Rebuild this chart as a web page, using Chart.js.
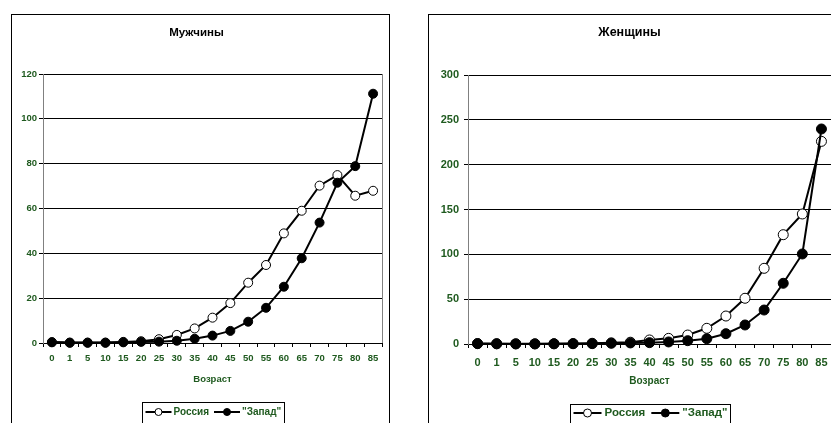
<!DOCTYPE html>
<html><head><meta charset="utf-8">
<script src="https://cdn.jsdelivr.net/npm/chart.js@4.4.1/dist/chart.umd.min.js"></script>
<style>
html,body{margin:0;padding:0;background:#fff;overflow:hidden;width:831px;height:423px;position:relative;}
.box{position:absolute;border:1px solid #000;box-sizing:border-box;}
canvas{position:absolute;}
</style></head><body>
<div class="box" style="left:11px;top:14px;width:379px;height:440px;"></div>
<div class="box" style="left:428px;top:14px;width:440px;height:440px;"></div>
<canvas id="c1" width="378" height="420" style="left:11px;top:14px;"></canvas>
<canvas id="c2" width="410" height="420" style="left:428px;top:14px;"></canvas>
<script>
const ageGroups = ['0','1','5','10','15','20','25','30','35','40','45','50','55','60','65','70','75','80','85'];
const seriesNames = ['Россия', '"Запад"'];
const maleRussia = [0.4,0.2,0.2,0.2,0.5,0.8,1.7,3.6,6.5,11.3,17.8,26.9,34.8,48.9,59.0,70.2,74.9,65.7,67.9];
const maleWest   = [0.3,0.1,0.1,0.1,0.3,0.5,0.6,1.0,1.9,3.3,5.4,9.5,15.7,25.1,37.8,53.7,71.5,78.9,111.2];
const femaleRussia = [0.5,0.3,0.2,0.2,0.3,0.5,0.8,1.3,2.0,4.5,6.3,10.0,17.5,31.2,51.0,84.4,121.9,145.0,226.0];
const femaleWest   = [0.4,0.2,0.1,0.1,0.2,0.3,0.4,0.8,1.2,1.5,2.3,3.7,5.9,11.5,21.2,37.9,67.7,100.4,239.8];
const maleTitle = 'Мужчины';
const femaleTitle = 'Женщины';
const xAxisTitle = 'Возраст';

const GREEN = '#1f5a1f';
const FONT = '"Liberation Sans", Arial, Helvetica, sans-serif';

function plotBorder(){
  return {id:'plotBorder', beforeDraw(chart){
    const {ctx, chartArea:a} = chart;
    ctx.save(); ctx.strokeStyle='#808080'; ctx.lineWidth=1;
    ctx.strokeRect(Math.round(a.left)+0.5, Math.round(a.top)+0.5, Math.round(a.right-a.left), Math.round(a.bottom-a.top));
    ctx.restore();
  }};
}
function legendPlugin(cfg){
  return {id:'boxLegend', afterDraw(chart){
    const ctx = chart.ctx, ca = chart.chartArea;
    ctx.save();
    ctx.font = 'bold ' + cfg.size + 'px ' + FONT;
    const items = chart.data.datasets.map(ds => ({label: ds.label, fill: ds.pointBackgroundColor, w: ctx.measureText(ds.label).width}));
    let total = cfg.pad*2;
    items.forEach((it,i)=>{ total += cfg.seg + cfg.gap + it.w; if(i) total += cfg.between; });
    total = Math.round(total);
    const x = Math.round((ca.left+ca.right)/2 - total/2) + 0.5;
    ctx.strokeStyle='#000'; ctx.lineWidth=1;
    ctx.strokeRect(x, cfg.top+0.5, total, 60);
    let cx = x + cfg.pad; const cy = cfg.textY;
    items.forEach((it,i)=>{
      if(i) cx += cfg.between;
      ctx.strokeStyle='#000';
      ctx.beginPath(); ctx.moveTo(cx, cy); ctx.lineTo(cx+cfg.seg, cy); ctx.lineWidth=2; ctx.stroke();
      ctx.beginPath(); ctx.arc(cx+cfg.seg/2, cy, cfg.r, 0, Math.PI*2); ctx.fillStyle=it.fill; ctx.fill(); ctx.lineWidth=1; ctx.stroke();
      cx += cfg.seg + cfg.gap;
      ctx.fillStyle = GREEN; ctx.textBaseline='middle'; ctx.textAlign='left';
      ctx.fillText(it.label, cx, cy);
      cx += it.w;
    });
    ctx.restore();
  }};
}

function makeChart(id, title, russia, west, s){
  return new Chart(document.getElementById(id), {
    type:'line',
    data:{labels: ageGroups, datasets:[
      {label: seriesNames[0], data: russia, borderColor:'#000', borderWidth:2, pointRadius:s.r, pointBorderWidth:1,
       pointBackgroundColor:'#fff', pointBorderColor:'#000', order:1, tension:0, clip:false},
      {label: seriesNames[1], data: west, borderColor:'#000', borderWidth:2, pointRadius:s.r, pointBorderWidth:1,
       pointBackgroundColor:'#000', pointBorderColor:'#000', order:0, tension:0, clip:false}
    ]},
    options:{
      responsive:false, animation:false, devicePixelRatio:1,
      layout:{padding:{left:0,right:s.padR,top:0,bottom:s.padB}},
      plugins:{
        legend:{display:false}, tooltip:{enabled:false},
        title:{display:true, text:title, color:'#000', font:{family:FONT, size:s.titleSize, weight:'bold'},
          padding:{top:s.titleTop, bottom:s.titleBottom}}
      },
      scales:{
        x:{offset:true,
          grid:{offset:true, drawOnChartArea:false, drawTicks:true, tickLength:4, color:'#000', tickColor:'#000'},
          border:{display:true, color:'#000', width:1},
          ticks:{color:GREEN, font:{family:FONT, size:s.tick, weight:'bold'}, padding:s.xPad, maxRotation:0, autoSkip:false},
          title:{display:true, text:xAxisTitle, color:GREEN, font:{family:FONT, size:s.axTitle, weight:'bold'}, padding:{top:0,bottom:s.axTitlePad}},
          afterFit(sc){ sc.height = 50; }
        },
        y:{min:0, max:s.max,
          ticks:{stepSize:s.step, color:GREEN, font:{family:FONT, size:s.tick, weight:'bold'}, padding:s.yPad},
          grid:{color:'#000', tickLength:4, tickColor:'#000', lineWidth:1},
          border:{display:true, color:'#808080'},
          afterFit(sc){ sc.width = s.yW; }
        }
      }
    },
    plugins:[plotBorder(), legendPlugin(s.legend)]
  });
}

makeChart('c1', maleTitle, maleRussia, maleWest, {
  r:4.5, padR:7, padB:41, titleSize:11.5, titleTop:12, titleBottom:34.2, tick:9.5, xPad:6, axTitle:9.5, axTitlePad:8,
  max:120, step:20, yPad:2, yW:32,
  legend:{size:10, seg:26, gap:2, pad:3, between:5, r:3.5, top:388, textY:398}
});
makeChart('c2', femaleTitle, femaleRussia, femaleWest, {
  r:5, padR:7, padB:40, titleSize:12.5, titleTop:11.5, titleBottom:34.5, tick:11, xPad:8, axTitle:10, axTitlePad:7,
  max:300, step:50, yPad:5, yW:40,
  legend:{size:11.5, seg:28, gap:3, pad:3, between:6, r:4, top:390, textY:399}
});
</script>
</body></html>
